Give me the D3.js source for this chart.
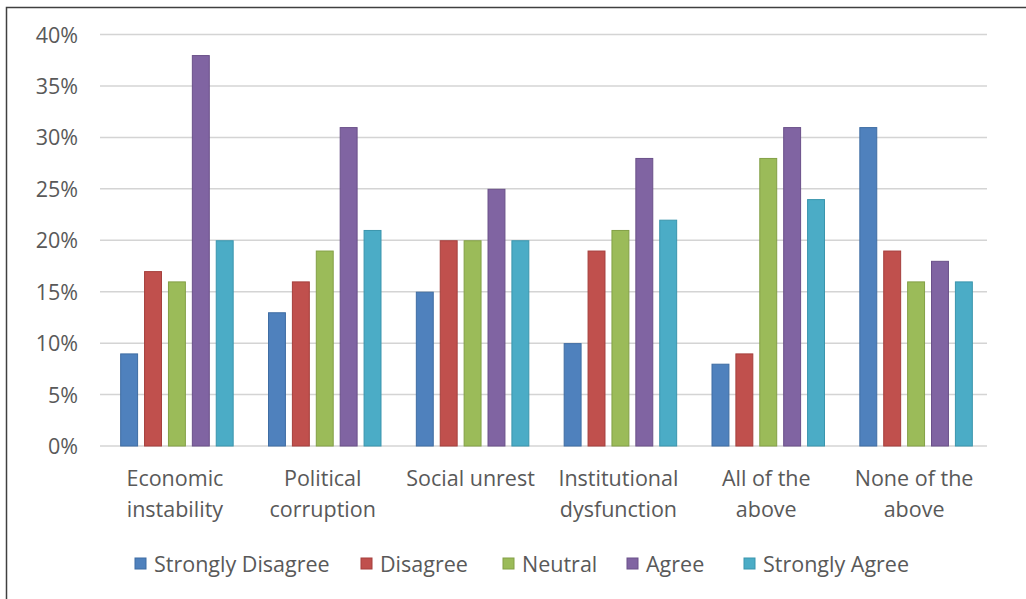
<!DOCTYPE html>
<html>
<head>
<meta charset="utf-8">
<script src="https://cdn.jsdelivr.net/npm/d3@7"></script>
<style>
  html, body { margin: 0; padding: 0; background: #fff; }
  svg { display: block; }
  text { font-family: "Open Sans", Lato, sans-serif; fill: #595959; }
</style>
</head>
<body>
<svg id="chart" width="1026" height="599"></svg>
<script>
// Survey responses (percent) per perceived cause
const categories = [
  ["Economic", "instability"],
  ["Political", "corruption"],
  ["Social unrest"],
  ["Institutional", "dysfunction"],
  ["All of the", "above"],
  ["None of the", "above"]
];
const seriesNames = ["Strongly Disagree", "Disagree", "Neutral", "Agree", "Strongly Agree"];
const stronglyDisagree = [9, 13, 15, 10, 8, 31];
const disagree         = [17, 16, 20, 19, 9, 19];
const neutral          = [16, 19, 20, 21, 28, 16];
const agree            = [38, 31, 25, 28, 31, 18];
const stronglyAgree    = [20, 21, 20, 22, 24, 16];
const yTicks = [0, 5, 10, 15, 20, 25, 30, 35, 40];

const seriesValues = [stronglyDisagree, disagree, neutral, agree, stronglyAgree];
const fills   = ["#4F81BD", "#C0504D", "#9BBB59", "#8064A2", "#4BACC6"];
const strokes = ["#3f6da3", "#a53f3c", "#83a046", "#6a5089", "#3a95ad"];
const FONT = 21.5;

const svg = d3.select("#chart");

// outer frame (left and top edges visible)
svg.append("path")
  .attr("d", "M6.5,599 L6.5,7.5 L1026,7.5")
  .attr("fill", "none").attr("stroke", "#404040").attr("stroke-width", 1.5);

const plot = { left: 100, right: 987, top: 34.5, bottom: 446 };

const x = d3.scaleBand()
  .domain(d3.range(categories.length))
  .range([plot.left, plot.right]);

const y = d3.scaleLinear().domain([0, 40]).range([plot.bottom, plot.top]);

const inner = d3.scaleBand()
  .domain(d3.range(seriesNames.length))
  .range([0, 113.5])
  .paddingInner(0.25)
  .paddingOuter(0);

// gridlines
svg.append("g").selectAll("line")
  .data(yTicks)
  .join("line")
  .attr("x1", plot.left).attr("x2", plot.right)
  .attr("y1", d => y(d)).attr("y2", d => y(d))
  .attr("stroke", "#d4d4d4").attr("stroke-width", 1.5);

// y axis labels
const yAxis = d3.axisLeft(y).tickValues(yTicks).tickFormat(d => d + "%").tickSize(0).tickPadding(0);
const yg = svg.append("g").attr("transform", `translate(78,0)`).call(yAxis);
yg.select(".domain").remove();
yg.selectAll("text")
  .attr("font-size", FONT)
  .attr("font-family", "'Open Sans', Lato, sans-serif")
  .attr("fill", "#595959")
  .attr("dy", "0.35em");

// bars
const groupOffset = (x.bandwidth() - 113.5) / 2 + 3;
seriesValues.forEach((vals, s) => {
  svg.append("g").selectAll("rect")
    .data(vals)
    .join("rect")
    .attr("x", (d, i) => x(i) + groupOffset + inner(s) + 0.5)
    .attr("width", inner.bandwidth() - 1)
    .attr("y", d => y(d) + 0.5)
    .attr("height", d => y(0) - y(d) - 0.5)
    .attr("fill", fills[s])
    .attr("stroke", strokes[s])
    .attr("stroke-width", 1);
});

// category labels
const catG = svg.append("g");
categories.forEach((lines, i) => {
  const cx = x(i) + x.bandwidth() / 2 + 1;
  const t = catG.append("text")
    .attr("x", cx)
    .attr("y", 486)
    .attr("text-anchor", "middle")
    .attr("font-size", FONT);
  lines.forEach((ln, k) => {
    t.append("tspan")
      .attr("x", cx)
      .attr("dy", k === 0 ? 0 : 31)
      .text(ln);
  });
});

// legend
const legendX = [135, 361, 503, 627, 744];
const lg = svg.append("g");
seriesNames.forEach((name, s) => {
  lg.append("rect")
    .attr("x", legendX[s]).attr("y", 558)
    .attr("width", 11).attr("height", 11)
    .attr("fill", fills[s]).attr("stroke", strokes[s]);
  lg.append("text")
    .attr("x", legendX[s] + 19).attr("y", 564)
    .attr("dy", "0.35em")
    .attr("font-size", FONT)
    .text(name);
});
</script>
</body>
</html>
